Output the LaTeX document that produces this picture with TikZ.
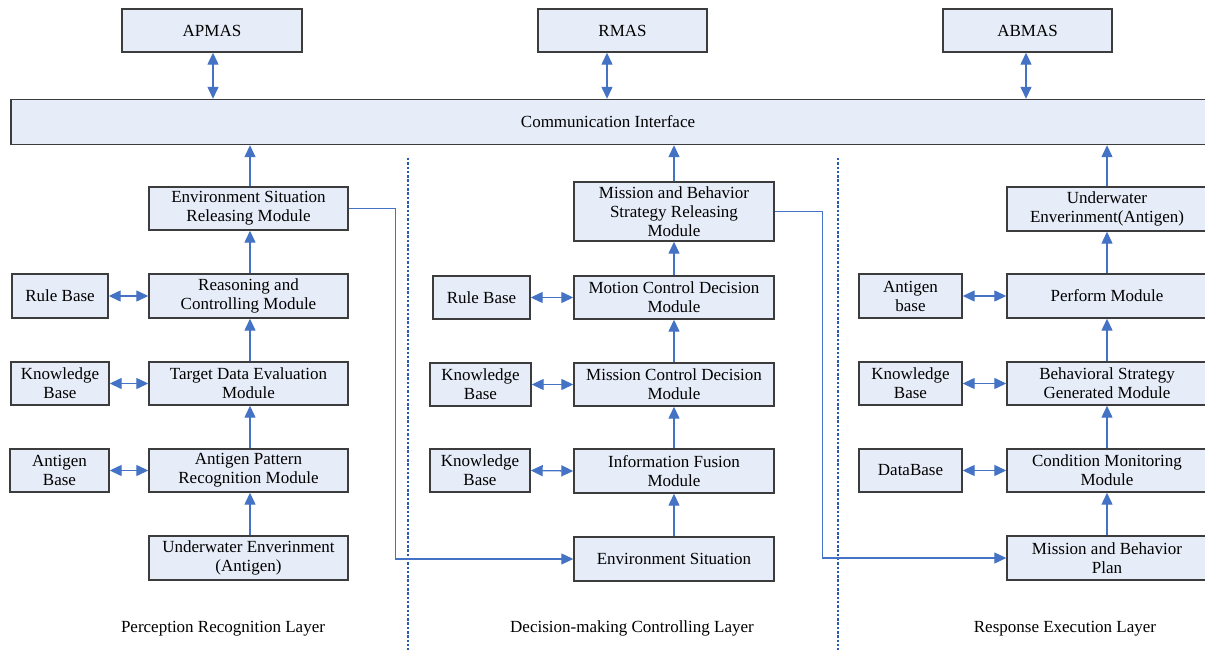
\documentclass[tikz,border=0pt]{standalone}
\usepackage{fontspec}
\setmainfont{Liberation Serif}
\usetikzlibrary{arrows.meta}
\definecolor{boxfill}{RGB}{231,237,248}
\definecolor{boxline}{RGB}{60,60,60}
\definecolor{arr}{RGB}{68,114,196}
\definecolor{sep}{RGB}{40,90,180}
\tikzset{
  box/.style={draw=boxline, line width=1.4pt, fill=boxfill, rectangle, align=center, inner sep=1pt,
    font=\fontsize{17}{19}\selectfont},
  up/.style={draw=arr, line width=1.3pt, -{Triangle[length=12pt,width=11pt]}},
  both/.style={draw=arr, line width=1.3pt, {Triangle[length=12pt,width=11pt]}-{Triangle[length=12pt,width=11pt]}},
  link/.style={draw=arr, line width=1.1pt, -{Triangle[length=12pt,width=11pt]}},
  sepline/.style={draw=sep, line width=2.8pt, dash pattern=on 2.5pt off 1.8pt},
  lay/.style={font=\fontsize{17}{19}\selectfont}
}
\begin{document}
\begin{tikzpicture}[x=1pt,y=-1pt]
\useasboundingbox (0,0) rectangle (1205,650);
\clip (0,0) rectangle (1205,650);
% top agents
\node[box, minimum width=180pt, minimum height=43pt] (apmas) at (212,30.5) {APMAS};
\node[box, minimum width=169pt, minimum height=43pt] (rmas) at (622.5,30.5) {RMAS};
\node[box, minimum width=169pt, minimum height=43pt] (abmas) at (1027.5,30.5) {ABMAS};
\node[box, minimum width=1210pt, minimum height=45pt] (ci) at (616,122) {};
\node[font=\fontsize{17}{19}\selectfont] (citext) at (608,122) {Communication Interface};
% left column
\node[box, minimum width=199pt, minimum height=43pt] (esrm) at (248.5,208.5) {Environment Situation\\Releasing Module};
\node[box, minimum width=199pt, minimum height=44pt] (rcm) at (248.5,296) {Reasoning and\\Controlling Module};
\node[box, minimum width=199pt, minimum height=43pt] (tde) at (248.5,383.5) {Target Data Evaluation\\Module};
\node[box, minimum width=199pt, minimum height=43pt] (apr) at (248.5,470.5) {Antigen Pattern\\Recognition Module};
\node[box, minimum width=199pt, minimum height=44pt] (ue1) at (248.5,558) {Underwater Enverinment\\(Antigen)};
\node[box, minimum width=96pt, minimum height=44pt] (rb1) at (60,296) {Rule Base};
\node[box, minimum width=98pt, minimum height=43pt] (kb1) at (60,383.5) {Knowledge\\Base};
\node[box, minimum width=99pt, minimum height=43pt] (ab1) at (59.5,470.5) {Antigen\\Base};
% middle column
\node[box, minimum width=200pt, minimum height=59pt] (mbsrm) at (674,211.5) {Mission and Behavior\\Strategy Releasing\\Module};
\node[box, minimum width=200pt, minimum height=43pt] (mcd1) at (674,297.5) {Motion Control Decision\\Module};
\node[box, minimum width=200pt, minimum height=43pt] (mcd2) at (674,384.5) {Mission Control Decision\\Module};
\node[box, minimum width=200pt, minimum height=44pt] (ifm) at (674,471) {Information Fusion\\Module};
\node[box, minimum width=200pt, minimum height=44pt] (es) at (674,559) {Environment Situation};
\node[box, minimum width=97pt, minimum height=43pt] (rb2) at (481.5,297.5) {Rule Base};
\node[box, minimum width=101pt, minimum height=43pt] (kb2) at (480.5,384.5) {Knowledge\\Base};
\node[box, minimum width=100pt, minimum height=43pt] (kb3) at (480,470.5) {Knowledge\\Base};
% right column
\node[box, minimum width=200pt, minimum height=44pt] (ue2) at (1107,209) {Underwater\\Enverinment(Antigen)};
\node[box, minimum width=200pt, minimum height=44pt] (pm) at (1107,296) {Perform Module};
\node[box, minimum width=200pt, minimum height=43pt] (bsg) at (1107,383.5) {Behavioral Strategy\\Generated Module};
\node[box, minimum width=200pt, minimum height=43pt] (cmm) at (1107,470.5) {Condition Monitoring\\Module};
\node[box, minimum width=200pt, minimum height=44pt] (mbp) at (1107,558) {Mission and Behavior\\Plan};
\node[box, minimum width=103pt, minimum height=44pt] (ab2) at (910.5,296) {Antigen\\base};
\node[box, minimum width=103pt, minimum height=43pt] (kb4) at (910.5,383.5) {Knowledge\\Base};
\node[box, minimum width=103pt, minimum height=43pt] (db) at (910.5,470.5) {DataBase};
% separators
\coordinate (s1t) at (408,158); \coordinate (s1b) at (408,650);
\coordinate (s2t) at (838,158); \coordinate (s2b) at (838,650);
\draw[sepline] (s1t) -- (s1b);
\draw[sepline] (s2t) -- (s2b);
% layer labels
\node[lay] (l1) at (223,629) {Perception Recognition Layer};
\node[lay] (l2) at (632,628) {Decision-making Controlling Layer};
\node[lay] (l3) at (1065,629) {Response Execution Layer};
% agent links
\draw[both] (apmas.south -| 213,0) -- (ci.north -| 213,0);
\draw[both] (rmas.south -| 607,0) -- (ci.north -| 607,0);
\draw[both] (abmas.south -| 1026,0) -- (ci.north -| 1026,0);
% left column arrows
\draw[up] (esrm.north -| 250,0) -- (ci.south -| 250,0);
\draw[up] (rcm.north -| 250,0) -- (esrm.south -| 250,0);
\draw[up] (tde.north -| 250,0) -- (rcm.south -| 250,0);
\draw[up] (apr.north -| 250,0) -- (tde.south -| 250,0);
\draw[up] (ue1.north -| 250,0) -- (apr.south -| 250,0);
\draw[both] (rb1.east) -- (rcm.west);
\draw[both] (kb1.east) -- (tde.west);
\draw[both] (ab1.east) -- (apr.west);
% middle column arrows
\draw[up] (mbsrm.north) -- (ci.south -| mbsrm.north);
\draw[up] (mcd1.north) -- (mbsrm.south);
\draw[up] (mcd2.north) -- (mcd1.south);
\draw[up] (ifm.north) -- (mcd2.south);
\draw[up] (es.north) -- (ifm.south);
\draw[both] (rb2.east) -- (mcd1.west);
\draw[both] (kb2.east) -- (mcd2.west);
\draw[both] (kb3.east) -- (ifm.west);
% right column arrows
\draw[up] (ue2.north) -- (ci.south -| ue2.north);
\draw[up] (pm.north) -- (ue2.south);
\draw[up] (bsg.north) -- (pm.south);
\draw[up] (cmm.north) -- (bsg.south);
\draw[up] (mbp.north) -- (cmm.south);
\draw[both] (ab2.east) -- (pm.west);
\draw[both] (kb4.east) -- (bsg.west);
\draw[both] (db.east) -- (cmm.west);
% cross-layer links
\draw[link] (esrm.east) -- ++(47,0) |- (es.west);
\draw[link] (mbsrm.east) -- ++(48,0) |- (mbp.west);
\end{tikzpicture}
\end{document}
